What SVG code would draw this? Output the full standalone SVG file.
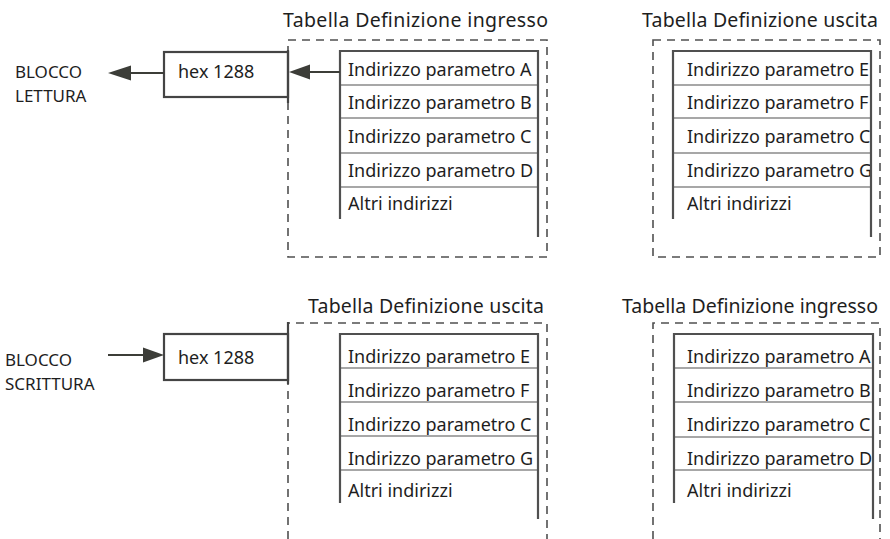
<svg xmlns="http://www.w3.org/2000/svg" width="890" height="539" viewBox="0 0 890 539">
<style>
  text { font-family: "Noto Sans", "Open Sans", "DejaVu Sans", sans-serif; fill: #1e1e1e; }
  .row { font-size: 18px; }
  .title { font-size: 19.5px; }
  .lbl { font-size: 18px; }
  .side { font-size: 17px; }
  .dash { fill: none; stroke: #505050; stroke-width: 1.6; stroke-dasharray: 8 6; }
  .frame { fill: none; stroke: #505050; stroke-width: 2.2; }
  .sep { fill: none; stroke: #8a8a8a; stroke-width: 1.6; }
  .box { fill: #ffffff; stroke: #444444; stroke-width: 2.2; }
  .wire { fill: none; stroke: #3c3d38; stroke-width: 2.2; }
  .head { fill: #3c3d38; }
</style>

<!-- ===== TOP ===== -->
<g id="label-blocco-lettura">
  <text class="side" x="15" y="78">BLOCCO</text>
  <text class="side" x="15" y="101.5">LETTURA</text>
</g>

<g id="hex-top">
  <rect class="box" x="164" y="52" width="124" height="45"/>
  <text class="lbl" x="178" y="78">hex 1288</text>
</g>

<g id="table-in-top">
  <path class="dash" d="M288,40 H547 V257 H288 Z"/>
  <line class="box" x1="288" y1="50" x2="288" y2="103"/>
  <text class="title" x="283" y="27" textLength="265">Tabella Definizione ingresso</text>
  <text class="row" x="348" y="76">Indirizzo parametro A</text>
  <text class="row" x="348" y="109">Indirizzo parametro B</text>
  <text class="row" x="348" y="143">Indirizzo parametro C</text>
  <text class="row" x="348" y="177">Indirizzo parametro D</text>
  <text class="row" x="348" y="210">Altri indirizzi</text>
  <path class="sep" d="M340,85 H538 M340,118 H538 M340,153 H538 M340,187 H538"/>
  <path class="frame" d="M340,219 V51 H538 V237"/>
</g>

<g id="table-out-top">
  <path class="dash" d="M653,40 H880 V257 H653 Z"/>
  <text class="title" x="642" y="27" textLength="236">Tabella Definizione uscita</text>
  <text class="row" x="687" y="76">Indirizzo parametro E</text>
  <text class="row" x="687" y="109">Indirizzo parametro F</text>
  <text class="row" x="687" y="143">Indirizzo parametro C</text>
  <text class="row" x="687" y="177">Indirizzo parametro G</text>
  <text class="row" x="687" y="210">Altri indirizzi</text>
  <path class="sep" d="M673,85 H871 M673,118 H871 M673,153 H871 M673,187 H871"/>
  <path class="frame" d="M673,219 V51 H871 V237"/>
</g>

<!-- ===== BOTTOM ===== -->
<g id="label-blocco-scrittura">
  <text class="side" x="5" y="366">BLOCCO</text>
  <text class="side" x="5" y="389.5">SCRITTURA</text>
</g>

<g id="hex-bottom">
  <rect class="box" x="164" y="334" width="124" height="46"/>
  <text class="lbl" x="178" y="364">hex 1288</text>
</g>

<g id="table-out-bottom">
  <path class="dash" d="M288,539 V323 H547 V539"/>
  <line class="box" x1="288" y1="322" x2="288" y2="384"/>
  <text class="title" x="308" y="313" textLength="236">Tabella Definizione uscita</text>
  <text class="row" x="348" y="363">Indirizzo parametro E</text>
  <text class="row" x="348" y="397">Indirizzo parametro F</text>
  <text class="row" x="348" y="431">Indirizzo parametro C</text>
  <text class="row" x="348" y="465">Indirizzo parametro G</text>
  <text class="row" x="348" y="497">Altri indirizzi</text>
  <path class="sep" d="M340,368 H538 M340,402 H538 M340,436 H538 M340,470 H538"/>
  <path class="frame" d="M340,503 V334 H538 V519"/>
</g>

<g id="table-in-bottom">
  <path class="dash" d="M653,539 V323 H880 V539"/>
  <text class="title" x="622" y="313" textLength="256">Tabella Definizione ingresso</text>
  <text class="row" x="687" y="363">Indirizzo parametro A</text>
  <text class="row" x="687" y="397">Indirizzo parametro B</text>
  <text class="row" x="687" y="431">Indirizzo parametro C</text>
  <text class="row" x="687" y="465">Indirizzo parametro D</text>
  <text class="row" x="687" y="497">Altri indirizzi</text>
  <path class="sep" d="M674,368 H873 M674,402 H873 M674,437 H873 M674,470 H873"/>
  <path class="frame" d="M674,503 V334 H873 V519"/>
</g>

<!-- ===== CONNECTORS ===== -->
<g id="connectors">
  <line class="wire" x1="164" y1="73" x2="128" y2="73"/>
  <polygon class="head" points="108,73 131,65.5 131,80.5"/>
  <line class="wire" x1="340" y1="72" x2="306" y2="72"/>
  <polygon class="head" points="289,72 310,64.5 310,79.5"/>
  <line class="wire" x1="108" y1="355" x2="146" y2="355"/>
  <polygon class="head" points="164,355 143,347.5 143,362.5"/>
</g>
</svg>
